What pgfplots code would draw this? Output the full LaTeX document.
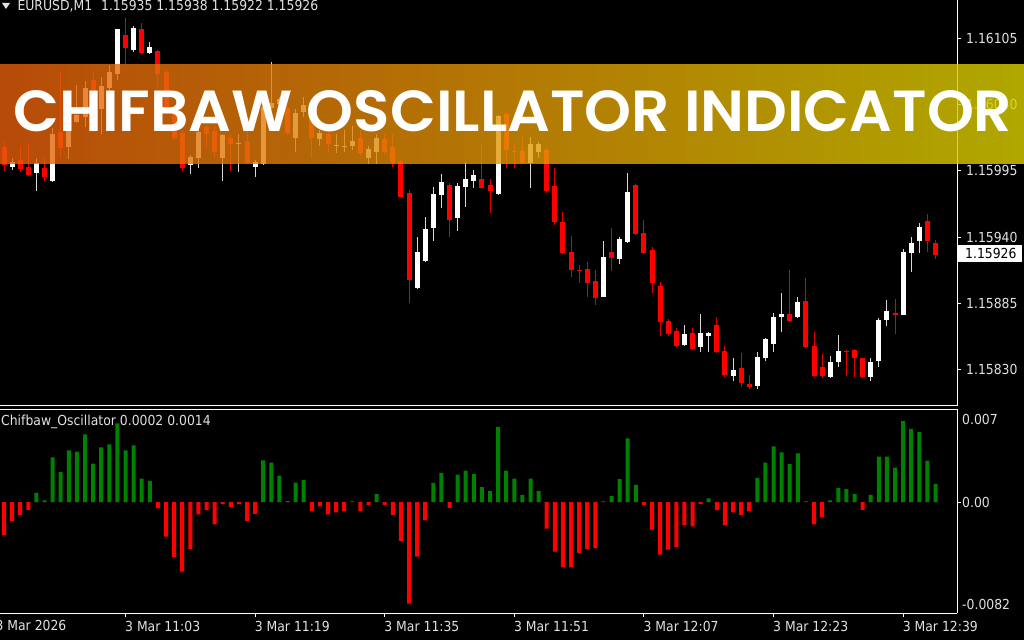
\documentclass[border=0pt]{standalone}
\usepackage{pgfplots}
\pgfplotsset{compat=1.18}
\usepackage{pgfplotstable}
\usepackage{fontspec}
\usepackage{graphicx}
\newfontfamily\labfont{DejaVu Sans Condensed}
\newfontfamily\banfont{Poppins}[UprightFont=* SemiBold]
\newcommand\lab{\labfont\fontsize{13.8pt}{16pt}\selectfont}
\definecolor{labgray}{RGB}{225,225,225}
\definecolor{bnL}{RGB}{229,94,12}
\definecolor{bnM}{RGB}{222,146,10}
\definecolor{bnR}{RGB}{220,210,0}
\definecolor{oscgreen}{RGB}{0,128,0}
\definecolor{oscred}{RGB}{255,0,0}
\definecolor{candred}{RGB}{255,0,0}
\definecolor{wickbull}{RGB}{215,215,215}
\definecolor{wickbear}{RGB}{225,0,0}

\pgfplotstableread{
i O H L C
1 1.15999 1.16006 1.15996 1.16002
4 1.15994 1.16006 1.15978 1.16001
6 1.15987 1.16031 1.15986 1.16025
8 1.16015 1.16048 1.16005 1.16036
9 1.16036 1.16066 1.16035 1.16041
10 1.16040 1.16070 1.16031 1.16063
12 1.16047 1.16073 1.16026 1.16065
13 1.16064 1.16083 1.16058 1.16077
14 1.16076 1.16113 1.16070 1.16112
16 1.16096 1.16115 1.16094 1.16113
18 1.16093 1.16102 1.16092 1.16097
23 1.16000 1.16008 1.15992 1.16006
24 1.16006 1.16031 1.15997 1.16027
27 1.16006 1.16026 1.15987 1.16024
29 1.16018 1.16026 1.15994 1.16018
31 1.15999 1.16004 1.15990 1.16002
32 1.16001 1.16050 1.16000 1.16048
33 1.16048 1.16085 1.16046 1.16051
34 1.16051 1.16056 1.16048 1.16054
36 1.16023 1.16046 1.16011 1.16043
37 1.16044 1.16056 1.16040 1.16049
39 1.16022 1.16029 1.16016 1.16026
41 1.16016 1.16026 1.16010 1.16016
42 1.16015 1.16029 1.16011 1.16015
43 1.16016 1.16032 1.16012 1.16019
45 1.16006 1.16016 1.16001 1.16013
46 1.16011 1.16026 1.16001 1.16022
51 1.15898 1.15940 1.15897 1.15927
52 1.15921 1.15957 1.15919 1.15946
53 1.15948 1.15982 1.15937 1.15975
54 1.15975 1.15992 1.15964 1.15985
56 1.15956 1.15985 1.15945 1.15982
57 1.15982 1.16002 1.15965 1.15988
58 1.15987 1.15996 1.15981 1.15991
61 1.15976 1.16041 1.15975 1.16040
65 1.16002 1.16023 1.15981 1.16017
66 1.16011 1.16019 1.16006 1.16017
74 1.15891 1.15937 1.15890 1.15923
76 1.15922 1.15940 1.15918 1.15938
77 1.15936 1.15993 1.15935 1.15977
84 1.15851 1.15867 1.15850 1.15859
86 1.15849 1.15876 1.15845 1.15860
87 1.15858 1.15861 1.15845 1.15860
90 1.15825 1.15840 1.15821 1.15829
93 1.15817 1.15845 1.15814 1.15840
94 1.15840 1.15856 1.15837 1.15855
95 1.15852 1.15877 1.15845 1.15873
96 1.15874 1.15894 1.15861 1.15876
98 1.15874 1.15890 1.15873 1.15886
102 1.15824 1.15841 1.15823 1.15836
103 1.15837 1.15859 1.15832 1.15845
107 1.15824 1.15840 1.15821 1.15836
108 1.15838 1.15873 1.15832 1.15871
109 1.15872 1.15888 1.15866 1.15878
111 1.15876 1.15930 1.15875 1.15927
112 1.15927 1.15940 1.15911 1.15935
113 1.15937 1.15952 1.15927 1.15948
}\bull

\pgfplotstableread{
i O H L C
0 1.16014 1.16019 1.15995 1.16000
2 1.16004 1.16016 1.15994 1.15997
3 1.15998 1.16018 1.15991 1.15992
5 1.15997 1.16006 1.15987 1.15990
7 1.16027 1.16077 1.16006 1.16014
11 1.16070 1.16077 1.16027 1.16046
15 1.16107 1.16122 1.16083 1.16097
17 1.16112 1.16118 1.16092 1.16093
19 1.16094 1.16095 1.16065 1.16076
20 1.16077 1.16079 1.16046 1.16048
21 1.16048 1.16050 1.16021 1.16023
22 1.16026 1.16029 1.15995 1.15998
25 1.16031 1.16033 1.16014 1.16026
26 1.16028 1.16032 1.16006 1.16011
28 1.16022 1.16026 1.15995 1.16018
30 1.16019 1.16029 1.16001 1.16002
35 1.16047 1.16050 1.16025 1.16027
38 1.16051 1.16054 1.16006 1.16023
40 1.16025 1.16031 1.16010 1.16018
44 1.16022 1.16029 1.16007 1.16010
47 1.16021 1.16026 1.16009 1.16011
48 1.16014 1.16026 1.15998 1.16002
49 1.16002 1.16004 1.15973 1.15974
50 1.15976 1.15979 1.15885 1.15905
55 1.15983 1.15985 1.15940 1.15955
59 1.15988 1.16017 1.15980 1.15981
60 1.15983 1.15988 1.15960 1.15979
62 1.16042 1.16044 1.15997 1.16013
63 1.16011 1.16017 1.15997 1.16011
64 1.16011 1.16023 1.16001 1.16002
67 1.16012 1.16014 1.15977 1.15979
68 1.15982 1.15997 1.15950 1.15953
69 1.15952 1.15961 1.15926 1.15927
70 1.15927 1.15941 1.15907 1.15913
71 1.15912 1.15917 1.15902 1.15912
72 1.15913 1.15919 1.15890 1.15902
73 1.15903 1.15913 1.15884 1.15890
75 1.15927 1.15948 1.15912 1.15923
78 1.15983 1.15984 1.15942 1.15943
79 1.15943 1.15954 1.15926 1.15927
80 1.15929 1.15932 1.15894 1.15902
81 1.15899 1.15903 1.15858 1.15870
82 1.15870 1.15872 1.15858 1.15860
83 1.15862 1.15865 1.15849 1.15850
85 1.15860 1.15865 1.15846 1.15848
88 1.15867 1.15874 1.15844 1.15845
89 1.15845 1.15850 1.15824 1.15826
91 1.15831 1.15844 1.15816 1.15819
92 1.15818 1.15826 1.15814 1.15816
97 1.15876 1.15913 1.15870 1.15871
99 1.15887 1.15906 1.15848 1.15849
100 1.15849 1.15861 1.15824 1.15825
101 1.15832 1.15843 1.15823 1.15825
104 1.15845 1.15846 1.15825 1.15845
105 1.15846 1.15847 1.15824 1.15840
106 1.15839 1.15840 1.15823 1.15824
110 1.15877 1.15889 1.15860 1.15876
114 1.15953 1.15959 1.15928 1.15937
115 1.15935 1.15938 1.15922 1.15926
}\bear

\pgfplotstableread{
i v
0 -0.00244
1 -0.00141
2 -0.00096
3 -0.00059
4 0.00067
5 0.00013
6 0.00331
7 0.00222
8 0.00383
9 0.00373
10 0.00501
11 0.00284
12 0.00405
13 0.00427
14 0.00583
15 0.00383
16 0.00420
17 0.00173
18 0.00156
19 -0.00047
20 -0.00257
21 -0.00407
22 -0.00516
23 -0.00348
24 -0.00091
25 -0.00061
26 -0.00165
27 -0.00015
28 -0.00037
29 -0.00015
30 -0.00139
31 -0.00087
32 0.00309
33 0.00291
34 0.00195
35 0.00007
36 0.00143
37 0.00163
38 -0.00067
39 -0.00032
40 -0.00091
41 -0.00076
42 -0.00067
43 0.00005
44 -0.00067
45 -0.00022
46 0.00059
47 -0.00022
48 -0.00096
49 -0.00287
50 -0.00753
51 -0.00405
52 -0.00136
53 0.00141
54 0.00215
55 -0.00044
56 0.00202
57 0.00232
58 0.00207
59 0.00111
60 0.00081
61 0.00556
62 0.00232
63 0.00173
64 0.00052
65 0.00173
66 0.00081
67 -0.00198
68 -0.00368
69 -0.00481
70 -0.00481
71 -0.00376
72 -0.00348
73 -0.00341
74 0.00005
75 0.00044
76 0.00170
77 0.00472
78 0.00126
79 -0.00022
80 -0.00205
81 -0.00390
82 -0.00353
83 -0.00333
84 -0.00170
85 -0.00180
86 -0.00015
87 0.00027
88 -0.00061
89 -0.00173
90 -0.00076
91 -0.00096
92 -0.00067
93 0.00178
94 0.00291
95 0.00413
96 0.00368
97 0.00281
98 0.00361
99 0.00005
100 -0.00165
101 -0.00113
102 0.00013
103 0.00104
104 0.00096
105 0.00059
106 -0.00059
107 0.00052
108 0.00336
109 0.00336
110 0.00254
111 0.00600
112 0.00541
113 0.00519
114 0.00306
115 0.00133
}\osc

\begin{document}
\begin{tikzpicture}
\useasboundingbox (0pt,0pt) rectangle (1024pt,640pt);
\clip (0pt,0pt) rectangle (1024pt,640pt);
\fill[black] (0pt,0pt) rectangle (1024pt,640pt);

% ---------------- price pane ----------------
\begin{axis}[
  at={(0pt,234pt)}, anchor=south west,
  width=957pt, height=406pt, scale only axis,
  xmin=-0.494, xmax=117.65, ymin=1.157999, ymax=1.161368,
  axis x line=bottom, axis y line=right,
  axis line style={white, line width=1pt, -},
  xtick=\empty,
  ytick={1.16105,1.16050,1.15995,1.15940,1.15885,1.15830},
  yticklabels={1.16105,1.16050,1.15995,1.15940,1.15885,1.15830},
  scaled y ticks=false,
  ytick align=outside, major tick length=4pt,
  tick style={white, line width=1pt},
  yticklabel style={font=\lab, text=labgray, anchor=west, inner sep=0pt, xshift=5pt},
  clip=true,
]
% wicks
\addplot[draw=wickbull, line width=1pt, quiver={u=0, v=\thisrow{H}-\thisrow{L}}] table[x=i, y=L] {\bull};
\addplot[draw=wickbear, line width=1pt, quiver={u=0, v=\thisrow{H}-\thisrow{L}}] table[x=i, y=L] {\bear};
% bodies
\addplot[draw=white, line width=5pt, quiver={u=0, v=\thisrow{C}-\thisrow{O}}] table[x=i, y=O] {\bull};
\addplot[draw=candred, line width=5pt, quiver={u=0, v=\thisrow{C}-\thisrow{O}}] table[x=i, y=O] {\bear};
% body edges (also draws doji lines)
\addplot[only marks, mark=-, mark size=2.5pt, mark options={draw=white, line width=1pt}] table[x=i, y=O] {\bull};
\addplot[only marks, mark=-, mark size=2.5pt, mark options={draw=white, line width=1pt}] table[x=i, y=C] {\bull};
\addplot[only marks, mark=-, mark size=2.5pt, mark options={draw=candred, line width=1pt}] table[x=i, y=O] {\bear};
\addplot[only marks, mark=-, mark size=2.5pt, mark options={draw=candred, line width=1pt}] table[x=i, y=C] {\bear};
\end{axis}

% ---------------- oscillator pane ----------------
\begin{axis}[
  at={(0pt,27pt)}, anchor=south west,
  width=957pt, height=204pt, scale only axis,
  xmin=-0.494, xmax=117.65, ymin=-0.008222, ymax=0.006889,
  axis x line=box, axis y line=right,
  axis line style={white, line width=1pt, -},
  xtick={15,31,47,63,79,95,111},
  xticklabels={3 Mar 11:03,3 Mar 11:19,3 Mar 11:35,3 Mar 11:51,3 Mar 12:07,3 Mar 12:23,3 Mar 12:39},
  xtick pos=left,
  ytick={0}, yticklabels={0.00},
  extra y ticks={0.00615,-0.00756},
  extra y tick labels={0.007,-0.0082},
  extra y tick style={major tick style={draw=none}},
  scaled y ticks=false,
  tick align=outside, major tick length=4pt,
  tick style={white, line width=1pt},
  ticklabel style={font=\lab, text=labgray, inner sep=0pt},
  xticklabel style={anchor=base west, xshift=-0.5pt, yshift=-14pt},
  yticklabel style={anchor=west, xshift=1pt},
  clip=true,
]
\addplot[ybar, bar width=4pt, bar shift=0pt, fill=oscgreen, draw=none]
  table[x=i, y expr={\thisrow{v}>0 ? \thisrow{v} : 0}] {\osc};
\addplot[ybar, bar width=4pt, bar shift=0pt, fill=oscred, draw=none]
  table[x=i, y expr={\thisrow{v}<0 ? \thisrow{v} : 0}] {\osc};
\end{axis}

% first date label (its tick lies just left of the window)
\node[anchor=base west, inner sep=0pt, font=\lab, text=labgray] at (-4.6pt,9.3pt) {3 Mar 2026};

% indicator window label
\node[anchor=base west, inner sep=0pt, font=\lab, text=labgray] at (1pt,214.5pt) {Chifbaw\_Oscillator 0.0002 0.0014};

% header
\fill[labgray] (2pt,637pt) -- (10pt,637pt) -- (6pt,631pt) -- cycle;
\node[anchor=base west, inner sep=0pt, font=\lab, text=labgray] at (17.3pt,629.3pt) {EURUSD,M1\hspace{9pt}1.15935 1.15938 1.15922 1.15926};

% current price box
\fill[white] (958pt,378pt) rectangle (1022pt,395pt);
\node[anchor=west, inner sep=0pt, font=\lab, text=black] at (965pt,386.3pt) {1.15926};

% banner
\shade[left color=bnL, middle color=bnM, right color=bnR, opacity=0.8] (0pt,476pt) rectangle (1024pt,575pt);
\node[anchor=base west, inner sep=0pt, text=white] at (13.3pt,508.3pt)
  {\resizebox{998.4pt}{41pt}{\banfont CHIFBAW OSCILLATOR INDICATOR}};
\end{tikzpicture}
\end{document}
